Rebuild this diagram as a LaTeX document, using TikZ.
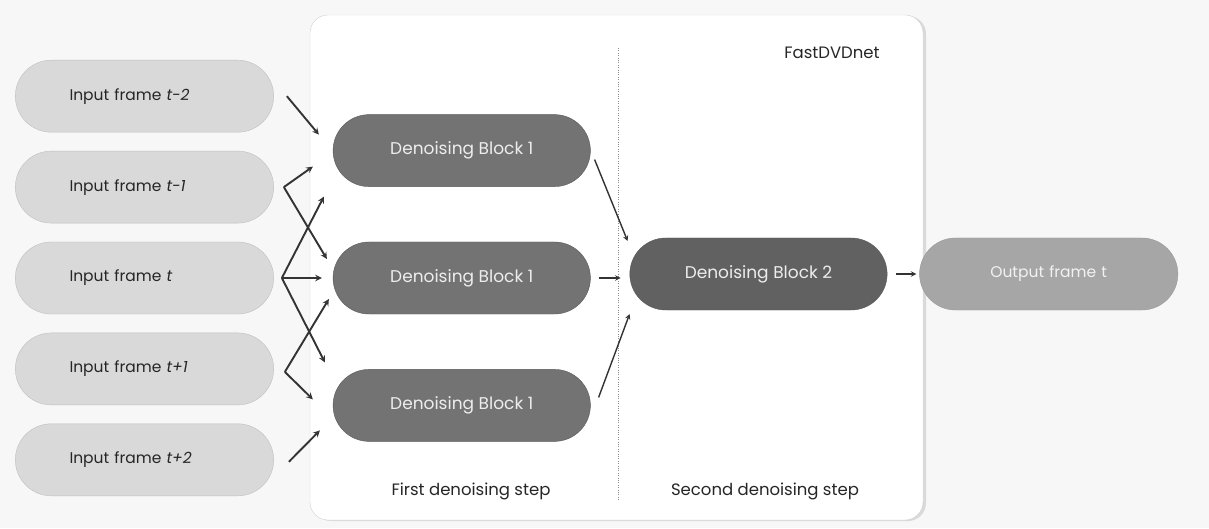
\documentclass[tikz,border=0pt]{standalone}
\usepackage{fontspec}
\setmainfont{Poppins}
\usetikzlibrary{positioning, arrows, calc, shapes.misc, shadows}

\begin{document}
\begin{tikzpicture}[x=1pt,y=1pt,>=stealth,
    inframe/.style={rounded rectangle, draw=black!25, fill=black!15, text=black!85,
      minimum width=265pt, minimum height=72pt, text width=150pt, align=left,
      font=\fontsize{15.5}{18}\selectfont},
    dnblock/.style={rounded rectangle, draw=black!65, fill=black!55, text=white!93!black,
      minimum width=264pt, minimum height=72pt, font=\fontsize{17}{20}\selectfont},
    link/.style={->, line width=1.9pt, draw=black!80}]
    \path[use as bounding box, fill=black!3] (0,0) rectangle (1209,528);
    % network frame
    \node [rectangle, rounded corners=18pt, draw=black!18, fill=white,
      drop shadow={opacity=0.25, shadow xshift=3pt, shadow yshift=-1pt},
      minimum width=613pt, minimum height=505pt] (net) at (616.5,260.5) {};
    \draw [dotted, black!45] (618,480) coordinate (divtop) -- (618,28) coordinate (divbot);

    \node [inframe] (in3) at (144.5,250) {Input frame \textit{t}};
    \node [inframe, above=18.5pt of in3] (in2) {Input frame \textit{t-1}};
    \node [inframe, above=18.5pt of in2] (in1) {Input frame \textit{t-2}};
    \node [inframe, below=18.5pt of in3] (in4) {Input frame \textit{t+1}};
    \node [inframe, below=18.5pt of in4] (in5) {Input frame \textit{t+2}};

    \node [dnblock, right=59pt of in3] (db1b) {Denoising Block 1};
    \node [dnblock, above=55pt of db1b] (db1a) {Denoising Block 1};
    \node [dnblock, below=55pt of db1b] (db1c) {Denoising Block 1};
    \node [dnblock, fill=black!62, right=39pt of db1b, yshift=4pt] (db2) {Denoising Block 2};
    \node [inframe, draw=black!40, fill=black!35, text=white!95!black, align=center,
      right=32pt of db2] (out) {Output frame t};

    \node [font=\fontsize{16.5}{19}\selectfont, text=black!85] (netname) at (832,475) {FastDVDnet};
    \node [font=\fontsize{16.5}{19}\selectfont, text=black!85] (step1) at (471,37) {First denoising step};
    \node [font=\fontsize{16.5}{19}\selectfont, text=black!85] (step2) at (765,37) {Second denoising step};

    % fan-out of the frames
    \coordinate (j1) at ([xshift=13pt]in1.east);
    \coordinate (j2) at ([xshift=10pt]in2.east);
    \coordinate (j3) at ([xshift=8pt]in3.east);
    \coordinate (j4) at ([xshift=11pt,yshift=-3pt]in4.east);
    \coordinate (j5) at ([xshift=15pt,yshift=-2pt]in5.east);

    \draw [link] (j1) -- ([xshift=-14pt,yshift=16pt]db1a.west);
    \draw [link] (j2) -- ([xshift=-20pt,yshift=-16pt]db1a.west);
    \draw [link] (j2) -- ([xshift=-6pt,yshift=19pt]db1b.west);
    \draw [link] (j3) -- ([xshift=-9pt,yshift=-46pt]db1a.west);
    \draw [link] (j3) -- ([xshift=-11pt]db1b.west |- j3);
    \draw [link] (j3) -- ([xshift=-8pt,yshift=43pt]db1c.west);
    \draw [link] (j4) -- ([xshift=-4pt,yshift=-21pt]db1b.west);
    \draw [link] (j4) -- ([xshift=-20pt,yshift=6pt]db1c.west);
    \draw [link] (j5) -- ([xshift=-13pt,yshift=-25pt]db1c.west);

    \draw [link, line width=1.4pt] ([xshift=4pt,yshift=-9pt]db1a.east) -- ([xshift=-2pt,yshift=33pt]db2.west);
    \draw [link, line width=1.4pt] ([xshift=8pt]db1b.east) -- ([xshift=-9pt]db2.west |- db1b.east);
    \draw [link, line width=1.4pt] ([xshift=8pt,yshift=8pt]db1c.east) -- ([yshift=-40pt]db2.west);
    \draw [link, line width=1.4pt] ([xshift=9pt]db2.east) -- ([xshift=-3pt]out.west);
  \end{tikzpicture}
\end{document}
